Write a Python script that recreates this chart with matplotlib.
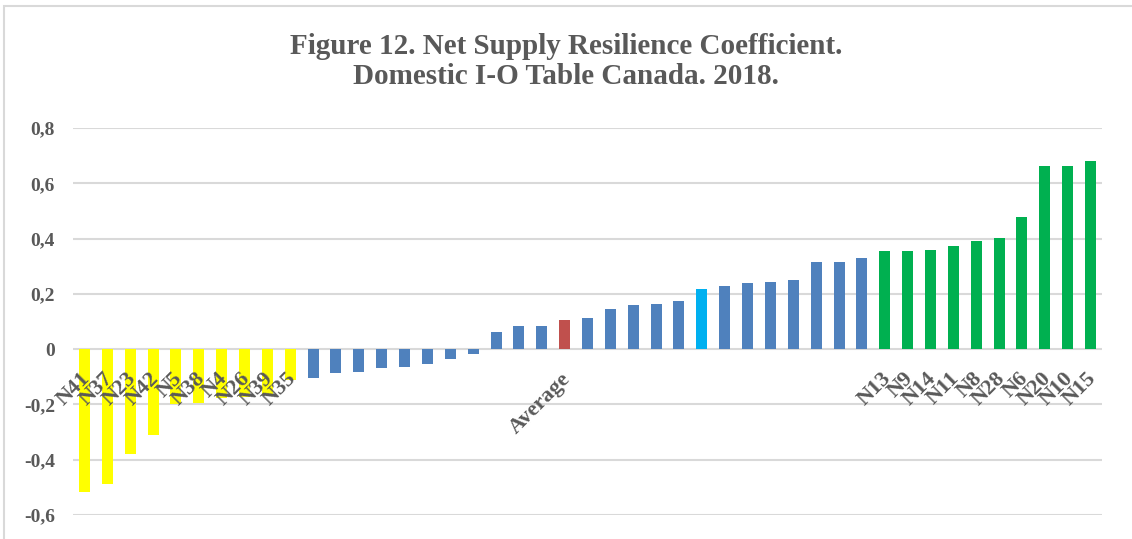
import numpy as np
import matplotlib.pyplot as plt
from matplotlib.patches import Rectangle

# values, in plotted order
labels = ['N41', 'N37', 'N23', 'N42', 'N5', 'N38', 'N4', 'N26', 'N39', 'N35',
          '', '', '', '', '', '', '', '',
          '', '', '', 'Average',
          '', '', '', '', '', '', '', '', '', '', '', '', '',
          'N13', 'N9', 'N14', 'N11', 'N8', 'N28', 'N6', 'N20', 'N10', 'N15']
low_vals = [-0.516, -0.487, -0.378, -0.311, -0.199, -0.194, -0.178, -0.172, -0.165, -0.112]
neg_mid = [-0.104, -0.088, -0.084, -0.069, -0.065, -0.054, -0.037, -0.017]
pos_mid = [0.063, 0.082, 0.084]
average = [0.105]
upper_mid = [0.111, 0.144, 0.159, 0.165, 0.173, 0.217, 0.229, 0.238, 0.242, 0.249, 0.314, 0.315, 0.329]
high_vals = [0.354, 0.354, 0.357, 0.372, 0.390, 0.401, 0.477, 0.661, 0.664, 0.679]
yticks = [-0.6, -0.4, -0.2, 0.0, 0.2, 0.4, 0.6, 0.8]
ytick_labels = ['-0,6', '-0,4', '-0,2', '0', '0,2', '0,4', '0,6', '0,8']

values = low_vals + neg_mid + pos_mid + average + upper_mid + high_vals

YELLOW = '#FFFF00'
BLUE = '#4F81BD'
RED = '#C0504D'
CYAN = '#00B0F0'
GREEN = '#00B050'
colors = ([YELLOW] * len(low_vals) + [BLUE] * (len(neg_mid) + len(pos_mid)) + [RED]
          + [BLUE] * 5 + [CYAN] + [BLUE] * 7 + [GREEN] * len(high_vals))

TXT = '#595959'
GRID = '#D9D9D9'
plt.rcParams['font.family'] = ['Liberation Serif', 'DejaVu Serif']
plt.rcParams['font.weight'] = 'bold'

fig = plt.figure(figsize=(11.32, 5.39), dpi=100)
# chart frame (right and bottom edges fall outside the picture)
fig.patches.append(Rectangle((0.0035, -0.05), 1.2, 1.039, transform=fig.transFigure,
                             fill=False, edgecolor=GRID, linewidth=1.5))
ax = fig.add_axes([0.0645, 0.0445, 0.909, 0.718])

x = np.arange(len(values))
ax.set_axisbelow(True)
ax.bar(x, values, width=0.48, color=colors, zorder=3)

ax.set_xlim(-0.5, len(values) - 0.5)
ax.set_ylim(-0.6, 0.8)
ax.set_yticks(yticks)
ax.set_yticklabels(ytick_labels)
ax.grid(axis='y', color=GRID, linewidth=1.5)

for s in ['top', 'right', 'left', 'bottom']:
    ax.spines[s].set_visible(False)

ax.set_xticks([])
# category labels drawn on top of the bars
for xi, lab in zip(x, labels):
    if lab:
        ax.annotate(lab, (xi, 0), xytext=(-3, -14), textcoords='offset points',
                    rotation=45, ha='right', va='top', rotation_mode='anchor',
                    fontsize=16, color=TXT, fontweight='bold', zorder=5)
ax.tick_params(axis='y', length=0, pad=13, labelsize=14, labelcolor=TXT)

fig.text(0.5, 0.886, 'Figure 12. Net Supply Resilience Coefficient.\nDomestic I-O Table Canada. 2018.',
         ha='center', va='center', fontsize=21, color=TXT, fontweight='bold', linespacing=1.13)

plt.savefig('out.png')
